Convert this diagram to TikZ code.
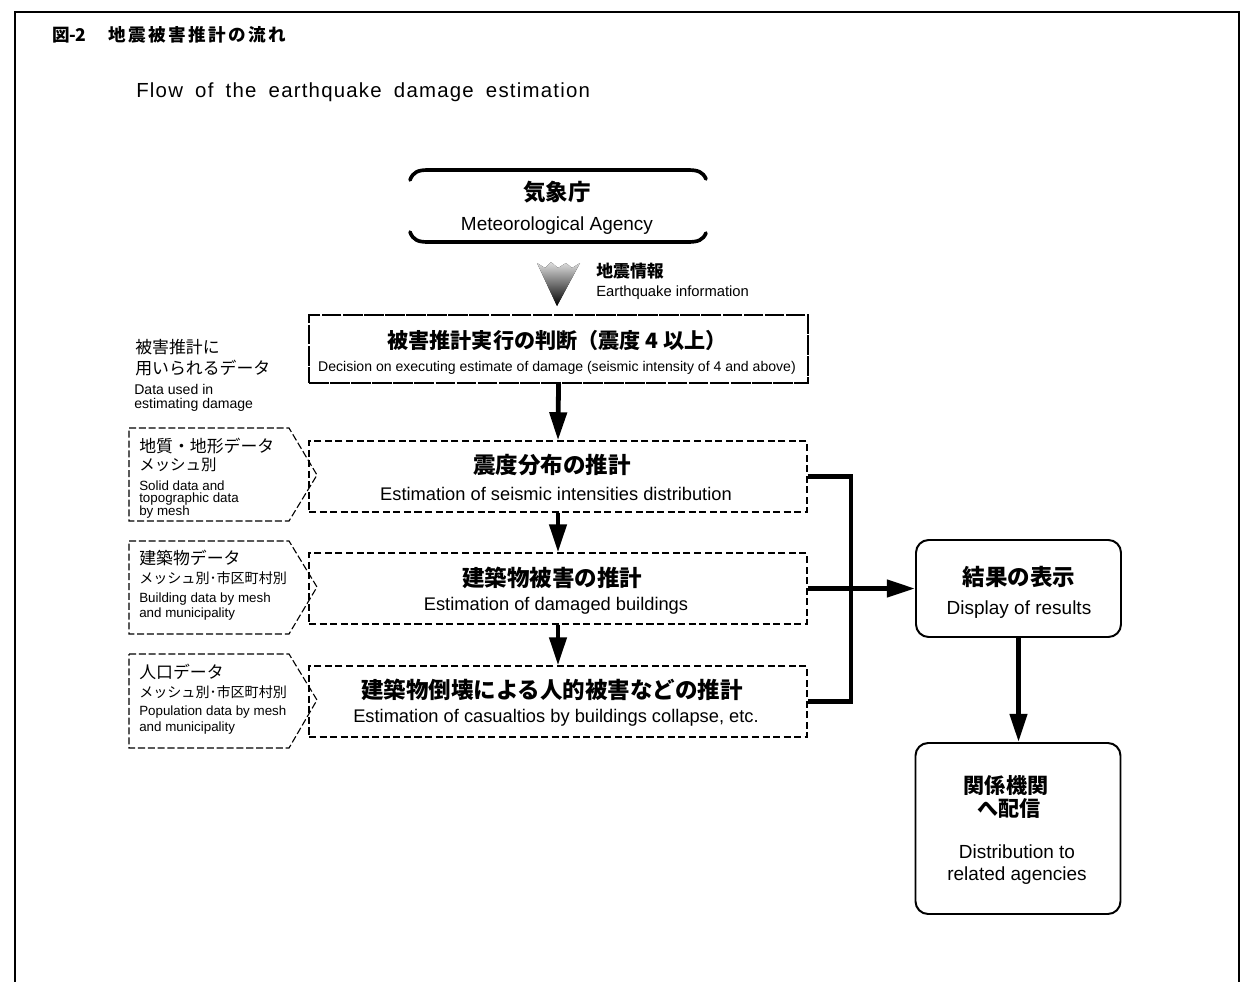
\documentclass[tikz,border=0pt]{standalone}
\usepackage{fontspec}
\setmainfont{Liberation Sans}
\newfontfamily\jp{Noto Sans CJK JP}
\usetikzlibrary{arrows.meta}
\begin{document}
\begin{tikzpicture}[x=0.025cm,y=-0.025cm,
  lt/.style={inner sep=0pt, anchor=west},
  ct/.style={inner sep=0pt},
  jpb/.style={font={\jp\bfseries\fontsize{#1}{#1}\selectfont}},
  jpr/.style={font={\jp\fontsize{#1}{#1}\selectfont}},
  en/.style={font={\fontsize{#1}{#1}\selectfont}},
  decbox/.style={draw, line width=0.9pt, dash pattern=on 14pt off 1pt, inner sep=0pt,
    minimum width={499*0.025cm}, minimum height={68*0.025cm}},
  estbox/.style={draw, line width=0.9pt, dash pattern=on 5pt off 2.5pt, inner sep=0pt,
    minimum width={498*0.025cm}, minimum height={71*0.025cm}},
  rbox/.style={draw, line width=1.4pt, rounded corners=9pt, inner sep=0pt,
    minimum width={205*0.025cm}},
  databox/.style={draw, line width=0.8pt, dash pattern=on 5pt off 2pt},
  flow/.style={line width=3.4pt, -{Triangle[length=20pt,width=12pt]}},
  bracket/.style={line width=3.4pt, line join=miter},
  banner/.style={line width=2.6pt, line cap=round},
]
\useasboundingbox (0,0) rectangle (1244,981);
% frame
\draw[line width=1.4pt] (15,985) -- (15,12) -- (1239,12) -- (1239,985);

% title
\node[lt, jpb=12.5] (title) at (52,35)
  {{\addfontfeature{LetterSpace=-4}図-2}\hspace{16pt}{\addfontfeature{LetterSpace=14}地震被害推計の流れ}};
\node[lt, font={\addfontfeature{LetterSpace=6}\fontsize{14.5}{14.5}\selectfont\spaceskip=0.6em}] (flow) at (136,92)
  {Flow of the earthquake damage estimation};

% banner
\draw[banner] (410,180) .. controls (413,172) and (418,170) .. (428,170) -- (688,170)
  .. controls (698,170) and (703,172) .. (706,179);
\draw[banner] (410,232) .. controls (413,240) and (418,242) .. (428,242) -- (688,242)
  .. controls (698,242) and (703,240) .. (706,233);
\node[ct, jpb=16] (jmajp) at (557,192) {気象庁};
\node[ct, en=13.5] (jmaen) at (557,226) {Meteorological Agency};

% earthquake information
\fill[top color=gray!25, bottom color=black] (537,263) -- (545,268) -- (551,262) -- (558,268)
  -- (566,263) -- (572,268) -- (580,263) -- (557,306) -- cycle;
\node[lt, jpb=12] (eqjp) at (596,271) {地震情報};
\node[lt, en=10.5] (eqen) at (596,293) {Earthquake information};

% left label
\node[lt, jpr=12] (l1) at (135,347) {被害推計に};
\node[lt, jpr=12] (l2) at (135,368) {用いられるデータ};
\node[lt, en=10] (l3) at (134,389) {Data used in};
\node[lt, en=10] (l4) at (134,405) {estimating damage};

% decision box
\node[decbox] (dec) at (558.5,349) {};
\node[ct, jpb=15] (decjp) at (557,340) {被害推計実行の判断（震度 4 以上）};
\node[ct, en=10] (decen) at (557,368) {Decision on executing estimate of damage (seismic intensity of 4 and above)};

% estimation boxes
\node[estbox] (e1) at (558,476.5) {};
\node[estbox] (e2) at (558,588.5) {};
\node[estbox] (e3) at (558,701.5) {};
\node[ct, jpb=16] (e1jp) at (552,465) {震度分布の推計};
\node[ct, en=13] (e1en) at (556,494) {Estimation of seismic intensities distribution};
\node[ct, jpb=16] (e2jp) at (552,578) {建築物被害の推計};
\node[ct, en=13] (e2en) at (556,606) {Estimation of damaged buildings};
\node[ct, jpb=16] (e3jp) at (552,690) {建築物倒壊による人的被害などの推計};
\node[ct, en=13] (e3en) at (556,718) {Estimation of casualtios by buildings collapse, etc.};

% data pentagons
\draw[databox] (129,428) -- (289,428) -- (317,475) -- (289,521) -- (129,521) -- cycle;
\draw[databox] (129,541) -- (289,541) -- (317,587) -- (289,634) -- (129,634) -- cycle;
\draw[databox] (129,654) -- (289,654) -- (317,700) -- (289,748) -- (129,748) -- cycle;
\node[lt, jpr=12] (d1a) at (139,446) {地質・地形データ};
\node[lt, jpr=11] (d1b) at (139,465) {メッシュ別};
\node[lt, en=9.5] (d1c) at (139,486) {Solid data and};
\node[lt, en=9.5] (d1d) at (139,499) {topographic data};
\node[lt, en=9.5] (d1e) at (139,512) {by mesh};
\node[lt, jpr=12] (d2a) at (139,558) {建築物データ};
\node[lt, jpr=10] (d2b) at (139,578) {メッシュ別･市区町村別};
\node[lt, en=9.5] (d2c) at (139,599) {Building data by mesh};
\node[lt, en=9.5] (d2d) at (139,614) {and municipality};
\node[lt, jpr=12] (d3a) at (139,672) {人口データ};
\node[lt, jpr=10] (d3b) at (139,692) {メッシュ別･市区町村別};
\node[lt, en=9.5] (d3c) at (139,712) {Population data by mesh};
\node[lt, en=9.5] (d3d) at (139,728) {and municipality};

% result boxes
\node[rbox, minimum height={97*0.025cm}] (res) at (1018.5,588.5) {};
\node[ct, jpb=16] (resjp) at (1019,577) {結果の表示};
\node[ct, en=13.5] (resen) at (1019,610) {Display of results};
\node[rbox, minimum height={171*0.025cm}] (dist) at (1018,828.5) {};
\node[ct, jpb=15] (distjp1) at (1006,785) {関係機関};
\node[ct, jpb=15] (distjp2) at (1009,808) {へ配信};
\node[ct, en=13.5] (disten1) at (1017,852) {Distribution to};
\node[ct, en=13.5] (disten2) at (1017,876) {related agencies};

% connectors
\draw[flow] (dec.south) -- (e1.north);
\draw[flow] (e1.south) -- (e2.north);
\draw[flow] (e2.south) -- (e3.north);
\draw[bracket] (e1.east) -- (851,476.5) -- (851,701.5) -- (e3.east);
\draw[flow] (e2.east) -- (res.west);
\draw[flow] (res.south) -- (res.south |- dist.north);
\end{tikzpicture}
\end{document}
